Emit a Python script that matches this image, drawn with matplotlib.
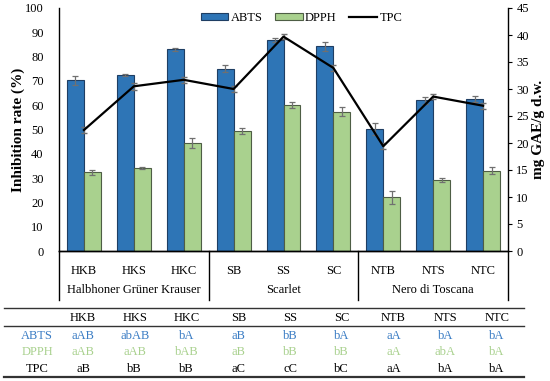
import matplotlib
matplotlib.use("Agg")
import matplotlib.pyplot as plt
from matplotlib.lines import Line2D
import numpy as np

plt.rcParams['font.family'] = ['Liberation Serif', 'DejaVu Serif']

samples = ['HKB', 'HKS', 'HKC', 'SB', 'SS', 'SC', 'NTB', 'NTS', 'NTC']
groups = ['Halbhoner Grüner Krauser', 'Scarlet', 'Nero di Toscana']

abts = [70.2, 72.5, 83.0, 75.0, 86.9, 84.2, 50.2, 62.0, 62.4]
abts_err = [1.9, 0.3, 0.7, 1.5, 0.8, 1.8, 2.5, 1.5, 1.2]
dpph = [32.4, 34.0, 44.3, 49.3, 60.2, 57.4, 22.1, 29.2, 33.1]
dpph_err = [1.0, 0.4, 2.0, 1.3, 1.3, 2.0, 2.6, 1.0, 1.5]
tpc = [22.4, 30.5, 31.7, 30.0, 39.7, 33.9, 19.4, 28.6, 26.9]
tpc_err = [0.6, 0.6, 0.5, 0.6, 0.4, 0.5, 0.6, 0.4, 0.6]

abts_letters = ['aAB', 'abAB', 'bA', 'aB', 'bB', 'bA', 'aA', 'bA', 'bA']
dpph_letters = ['aAB', 'aAB', 'bAB', 'aB', 'bB', 'bB', 'aA', 'abA', 'bA']
tpc_letters = ['aB', 'bB', 'bB', 'aC', 'cC', 'bC', 'aA', 'bA', 'bA']

blue = '#2E75B6'
green = '#A9D18E'
W, H = 550, 381

fig = plt.figure(figsize=(5.5, 3.81), dpi=100)
ax = fig.add_axes([59 / W, 1 - 251 / H, 449 / W, 243 / H])
ax2 = ax.twinx()

x = np.arange(len(samples))
bw = 0.34
ax.bar(x - bw / 2, abts, bw, color=blue, edgecolor='#1F3E63', linewidth=0.8,
       yerr=abts_err, error_kw=dict(ecolor='#707070', elinewidth=0.9, capsize=2, capthick=0.9),
       label='ABTS', zorder=2)
ax.bar(x + bw / 2, dpph, bw, color=green, edgecolor='#4E5E45', linewidth=0.8,
       yerr=dpph_err, error_kw=dict(ecolor='#707070', elinewidth=0.9, capsize=2, capthick=0.9),
       label='DPPH', zorder=2)
ax2.errorbar(x, tpc, yerr=tpc_err, fmt='none', ecolor='#707070', elinewidth=0.9, capsize=2, zorder=3)
ax2.plot(x, tpc, color='black', linewidth=1.6, label='TPC', zorder=4)

ax.set_xlim(-0.5, len(samples) - 0.5)
ax.set_ylim(0, 100)
ax.set_yticks(range(0, 101, 10))
ax2.set_ylim(0, 45)
ax2.set_yticks(range(0, 46, 5))

for a in (ax, ax2):
    a.spines['top'].set_visible(False)
ax.spines['right'].set_visible(False)
ax2.spines['left'].set_visible(False)
for a in (ax, ax2):
    for s in a.spines.values():
        s.set_linewidth(1.0)
ax.tick_params(axis='y', length=0, labelsize=9, pad=11)
ax2.tick_params(axis='y', length=3, direction='out', labelsize=9, pad=3)
ax.set_xticks(x)
ax.set_xticklabels(samples, fontsize=9)
ax.tick_params(axis='x', length=0, pad=10)

ax.set_ylabel('Inhibition rate (%)', fontsize=11, fontweight='bold', labelpad=0)
ax2.set_ylabel('mg GAE/g d.w.', fontsize=11, fontweight='bold', labelpad=2)

# group separators below axis
ext = -(300 - 251) / 243
for xv in [0, 3 / 9, 6 / 9, 1]:
    ax.plot([xv, xv], [0, ext], transform=ax.transAxes, color='black', linewidth=1.0, clip_on=False)
for i, g in enumerate(groups):
    ax.text((i * 3 + 1.5) / 9, -(290 - 251) / 243, g, transform=ax.transAxes,
            ha='center', va='center', fontsize=9)

h1, l1 = ax.get_legend_handles_labels()
h2, l2 = ax2.get_legend_handles_labels()
ax.legend(h1 + h2, l1 + l2, ncol=3, frameon=False, loc='upper center',
          bbox_to_anchor=(0.54, 1.03), fontsize=9, handlelength=2.2, handleheight=0.5,
          columnspacing=1.0, handletextpad=0.2)

# table below
def fy(py):
    return 1 - py / H

for py, lw in [(308, 1.0), (326, 1.0), (377, 1.6)]:
    fig.add_artist(Line2D([4 / W, 524 / W], [fy(py), fy(py)], color='#333333', linewidth=lw))

col_x = np.linspace(83, 497, len(samples))
fig.text(37 / W, fy(336), 'ABTS', ha='center', va='center', fontsize=9, color='#3A7CC4')
fig.text(37 / W, fy(352), 'DPPH', ha='center', va='center', fontsize=9, color=green)
fig.text(37 / W, fy(369), 'TPC', ha='center', va='center', fontsize=9, color='black')
for cx, s, a1, d1, t1 in zip(col_x, samples, abts_letters, dpph_letters, tpc_letters):
    fig.text(cx / W, fy(318), s, ha='center', va='center', fontsize=9)
    fig.text(cx / W, fy(336), a1, ha='center', va='center', fontsize=9, color='#3A7CC4')
    fig.text(cx / W, fy(352), d1, ha='center', va='center', fontsize=9, color=green)
    fig.text(cx / W, fy(369), t1, ha='center', va='center', fontsize=9, color='black')

fig.savefig('out.png', dpi=100)
